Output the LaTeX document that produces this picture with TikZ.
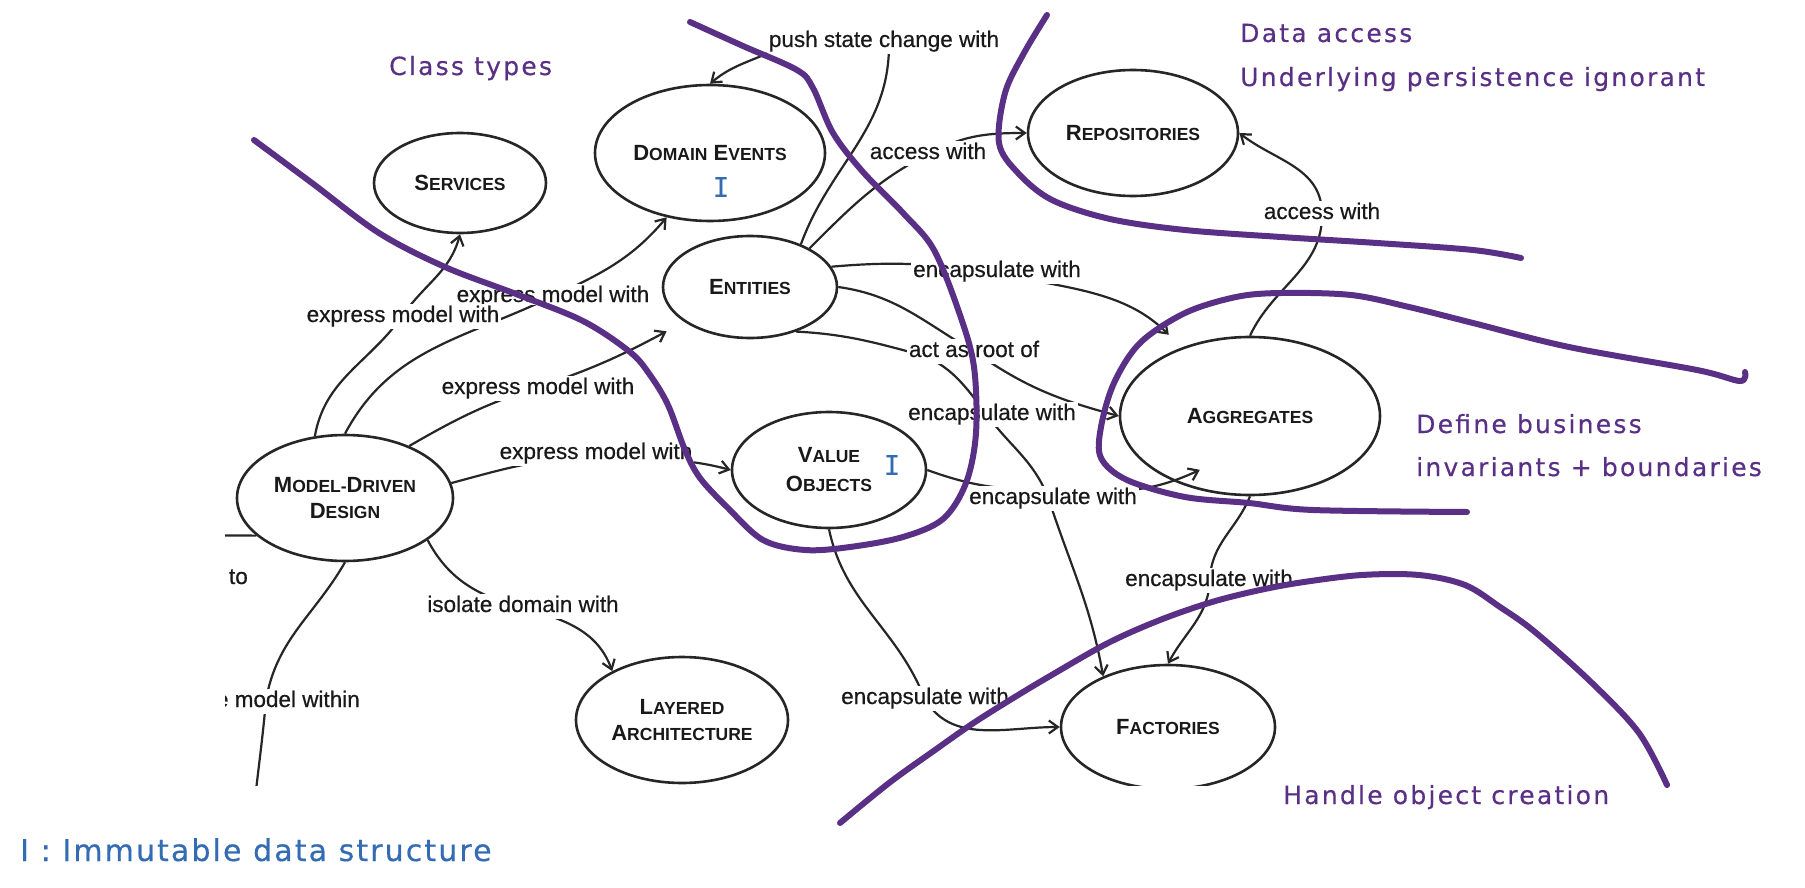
\documentclass[tikz,border=0pt]{standalone}
\usepackage{fontspec}
\usetikzlibrary{shapes.geometric,arrows.meta}
\newfontfamily\labfont{Liberation Sans}
\newfontfamily\edgefont[FakeBold=0.5]{Liberation Sans}
\newfontfamily\handfont[LetterSpace=9,FakeBold=0.4]{DejaVu Sans}
\newfontfamily\legendfont[LetterSpace=7,FakeBold=0.4]{DejaVu Sans}
\newfontfamily\monoIfont[FakeBold=0.4]{DejaVu Sans Mono}
\definecolor{purp}{RGB}{90,48,135}
\definecolor{iblue}{RGB}{52,108,180}
\newcommand\capsc[2]{{\fontsize{22}{26}\selectfont #1}{\fontsize{17.5}{26}\selectfont #2}}
\begin{document}
\begin{tikzpicture}[x=1pt,y=1pt,
  concept/.style={ellipse, draw=black!85, line width=2.6pt, inner sep=0pt, align=center, text=black!90,
    font=\labfont\bfseries\fontsize{22}{26}\selectfont},
  conn/.style={draw=black!85, line width=2.2pt},
  arr/.style={-{Straight Barb[length=9pt,width=13pt]}},
  lbl/.style={fill=white, inner sep=2pt, text height=16pt, text depth=5pt, anchor=base,
    font=\edgefont\fontsize{22.5}{27}\selectfont, text=black!90},
  purpline/.style={draw=purp, line width=6pt, line cap=round, line join=round},
  hand/.style={text=purp, font=\handfont\fontsize{25}{30}\selectfont, anchor=base west, inner sep=0pt},
  iglyph/.style={text=iblue, font=\monoIfont\fontsize{27}{30}\selectfont, inner sep=0pt},
]
\fill[white] (0,0) rectangle (1805,-888);
\useasboundingbox (0,0) rectangle (1805,-888);

\begin{scope}
\clip (225,0) rectangle (1805,-785);
% concepts
\node[concept, minimum width=172pt, minimum height=100pt] (svc) at (460,-183) {\capsc{S}{ERVICES}};
\node[concept, minimum width=230pt, minimum height=136pt] (dev) at (710,-153) {\capsc{D}{OMAIN} \capsc{E}{VENTS}};
\node[concept, minimum width=174pt, minimum height=102pt] (ents) at (750,-287) {\capsc{E}{NTITIES}};
\node[concept, minimum width=194pt, minimum height=116pt] (vobj) at (829,-470) {\capsc{V}{ALUE}\\[3pt]\capsc{O}{BJECTS}};
\node[concept, minimum width=210pt, minimum height=126pt] (repo) at (1133,-133) {\capsc{R}{EPOSITORIES}};
\node[concept, minimum width=260pt, minimum height=158pt] (aggr) at (1250,-416) {\capsc{A}{GGREGATES}};
\node[concept, minimum width=214pt, minimum height=124pt] (fact) at (1168,-727) {\capsc{F}{ACTORIES}};
\node[concept, minimum width=212pt, minimum height=126pt] (layr) at (682,-720) {\capsc{L}{AYERED}\\\capsc{A}{RCHITECTURE}};
\node[concept, minimum width=216pt, minimum height=126pt] (mdd) at (345,-498) {\capsc{M}{ODEL-}\capsc{D}{RIVEN}\\\capsc{D}{ESIGN}};

% route points (hidden behind labels)
\coordinate (c1) at (403,-315);
\coordinate (c2) at (545,-300);
\coordinate (c3) at (538,-387);
\coordinate (c4) at (596,-458);
\coordinate (c5) at (523,-608);
\coordinate (c7) at (266,-700);
\coordinate (offL) at (150,-535);
\coordinate (offB) at (250,-900);
\coordinate (c8a) at (889,-45);
\coordinate (c8b) at (775,-50);
\coordinate (c9) at (932,-152);
\coordinate (c10) at (1322,-212);
\coordinate (c11) at (990,-272);
\coordinate (c12) at (975,-352);
\coordinate (p1) at (925,-356);
\coordinate (p2) at (985,-412);
\coordinate (p3) at (1048,-497);
\coordinate (c14) at (1053,-490);
\coordinate (c15) at (1210,-579);
\coordinate (c16) at (924,-697);

% connectors
\draw[conn,arr] (mdd.116) to[out=80,in=235] (c1) to[out=55,in=255] (svc.south);
\draw[conn,arr] (mdd.north) to[out=62,in=205] (c2) to[out=25,in=230] (dev.236);
\draw[conn,arr,shorten >=20pt] (mdd.39) to[out=30,in=198] (c3) to[out=18,in=208] (ents.208);
\draw[conn,arr] (mdd.8) to[out=15,in=180] (c4) to[out=-3,in=165] (vobj.west);
\draw[conn,arr] (mdd.-27) to[out=-62,in=165] (c5) to[out=-15,in=110] (layr.145);
\draw[conn] (mdd.203) -- (offL);
\draw[conn] (mdd.south) to[out=-120,in=80] (c7) to[out=-95,in=91] (offB);
\draw[conn,arr] (ents.40) to[out=70,in=-90] (c8a) -- (c8b) to[out=205,in=40] (dev.north);
\draw[conn,arr] (ents.33) to[out=45,in=207] (c9) to[out=27,in=180] (repo.west);
\draw[conn,arr] (aggr.north) to[out=65,in=-88] (c10) to[out=92,in=-38] (repo.east);
\draw[conn,arr,shorten >=18pt] (ents.14) to[out=5,in=172] (c11) to[out=-12,in=135] (aggr.135);
\draw[conn,arr] (ents.east) to[out=-8,in=150] (c12) to[out=-35,in=165] (aggr.west);
\draw[conn,arr] (ents.-44) to[out=-3,in=165] (p1) to[out=-25,in=128] (p2) to[out=-55,in=112] (p3) to[out=-72,in=100] (fact.142);
\draw[conn,arr,shorten >=-28pt] (vobj.east) to[out=-20,in=180] (c14) to[out=5,in=-155] (aggr.221);
\draw[conn,arr] (aggr.south) to[out=-112,in=88] (c15) to[out=-92,in=62] (fact.north);
\draw[conn,arr] (vobj.south) to[out=-78,in=112] (c16) to[out=-62,in=180] (fact.west);

% labels
\node[lbl, text depth=1pt] (l2) at (553,-302) {express model with};
\node[lbl] (l1) at (403,-322) {express model with};
\node[lbl] (l3) at (538,-394) {express model with};
\node[lbl] (l4) at (596,-459) {express model with};
\node[lbl] (l5) at (523,-612) {isolate domain with};
\node[lbl, anchor=base east] (l6) at (250,-584) {to};
\node[lbl, anchor=base east] (l7) at (362,-707) {e model within};
\node[lbl] (l8) at (884,-47) {push state change with};
\node[lbl] (l9) at (928,-159) {access with};
\node[lbl] (l10) at (1322,-219) {access with};
\node[lbl] (l11) at (997,-277) {encapsulate with};
\node[lbl] (l12) at (974,-357) {act as root of};
\node[lbl] (l13) at (992,-420) {encapsulate with};
\node[lbl] (l14) at (1053,-504) {encapsulate with};
\node[lbl] (l15) at (1209,-586) {encapsulate with};
\node[lbl] (l16) at (925,-704) {encapsulate with};
\end{scope}

% handwritten annotations
\draw[purpline] plot[smooth, tension=0.55] coordinates {(254,-140) (312,-183) (379,-233) (445,-267) (516,-294) (583,-321) (630,-352) (650,-375) (668,-405) (685,-450) (700,-478) (727,-507) (763,-540) (805,-550) (850,-547) (903,-537) (943,-519) (966,-483) (976,-433) (974,-367) (960,-315) (934,-250) (904,-214) (863,-172) (833,-133) (813,-88) (797,-70) (743,-46) (690,-22)};
\draw[purpline] plot[smooth, tension=0.55] coordinates {(1047,-15) (1024,-53) (1005,-93) (999,-143) (1018,-173) (1052,-200) (1110,-219) (1185,-230) (1281,-237) (1377,-243) (1473,-250) (1521,-258)};
\draw[purpline] plot[smooth, tension=0.55] coordinates {(1467,-512) (1313,-510) (1249,-503) (1185,-497) (1127,-480) (1101,-458) (1101,-427) (1114,-383) (1140,-343) (1185,-313) (1236,-297) (1281,-293) (1351,-295) (1409,-307) (1473,-323) (1569,-347) (1697,-370) (1740,-381) (1745,-372)};
\draw[purpline] plot[smooth, tension=0.55] coordinates {(840,-823) (889,-783) (935,-750) (972,-724) (1010,-700) (1050,-676) (1108,-643) (1160,-620) (1212,-602) (1260,-590) (1304,-582) (1362,-575) (1419,-575) (1465,-585) (1500,-607) (1535,-632) (1592,-683) (1639,-733) (1667,-785)};

\node[hand] (tClass) at (389,-75) {Class types};
\node[hand] (tData) at (1240,-42) {Data access};
\node[hand] (tUnder) at (1240,-86) {Underlying persistence ignorant};
\node[hand] (tDef) at (1416,-433) {Define business};
\node[hand] (tInv) at (1416,-476) {invariants + boundaries};
\node[hand] (tHandle) at (1283,-804) {Handle object creation};
\node[text=iblue, font=\legendfont\fontsize{30}{34}\selectfont, anchor=base west, inner sep=0pt] (tLegend) at (20,-861) {I : Immutable data structure};
\node[iglyph] (iDE) at (721,-187) {I};
\node[iglyph] (iVO) at (892,-465) {I};
\end{tikzpicture}
\end{document}
